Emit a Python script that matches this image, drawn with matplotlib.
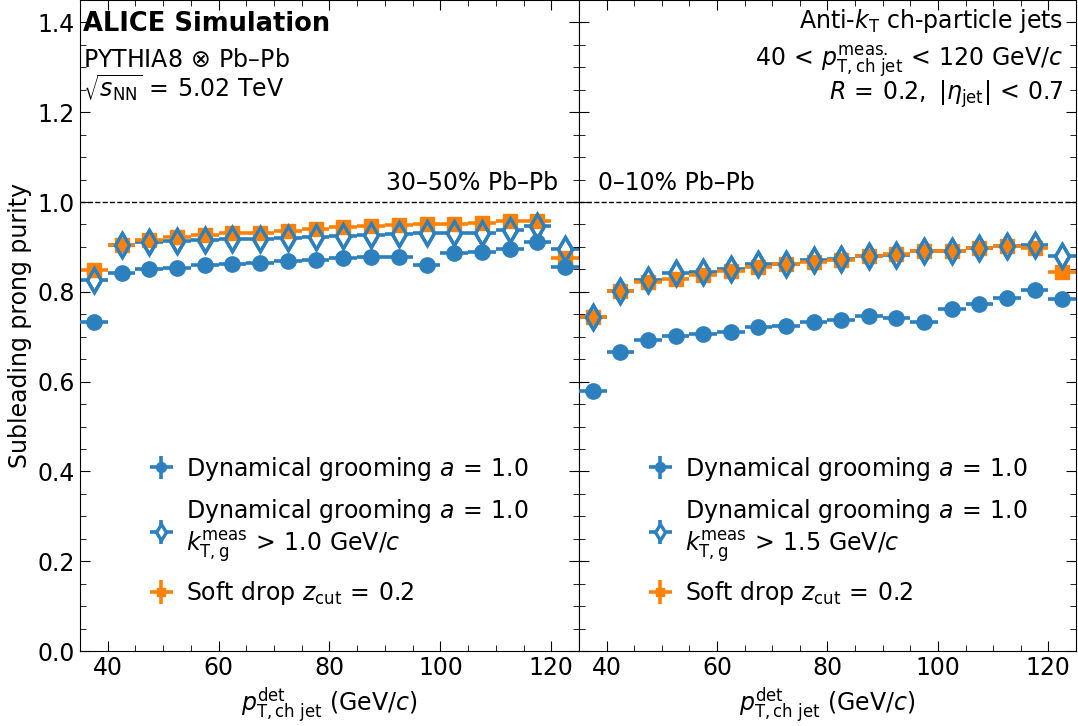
import matplotlib
matplotlib.use('Agg')
import matplotlib.pyplot as plt
import numpy as np

plt.rcParams['font.family'] = ['DejaVu Sans']
plt.rcParams['mathtext.fontset'] = 'dejavusans'

# bin centres (5 GeV bins)
pt_bins = [37.5, 42.5, 47.5, 52.5, 57.5, 62.5, 67.5, 72.5, 77.5, 82.5,
           87.5, 92.5, 97.5, 102.5, 107.5, 112.5, 117.5, 122.5]
bin_half_width = 2.5

# 30-50% Pb-Pb
dyg_3050 = [0.732, 0.843, 0.850, 0.854, 0.859, 0.863, 0.864, 0.869, 0.871, 0.876,
            0.877, 0.878, 0.860, 0.887, 0.889, 0.896, 0.910, 0.855]
dyg_3050_err = [0.004, 0.003, 0.003, 0.003, 0.003, 0.003, 0.003, 0.003, 0.003, 0.003,
                0.003, 0.003, 0.013, 0.003, 0.003, 0.003, 0.004, 0.004]
dygkt_3050 = [0.827, 0.905, 0.910, 0.913, 0.916, 0.917, 0.918, 0.921, 0.923, 0.925,
              0.927, 0.929, 0.930, 0.930, 0.932, 0.938, 0.946, 0.896]
sd_3050 = [0.848, 0.904, 0.915, 0.922, 0.926, 0.930, 0.932, 0.936, 0.939, 0.944,
           0.947, 0.949, 0.951, 0.952, 0.954, 0.958, 0.957, 0.876]

# 0-10% Pb-Pb
dyg_010 = [0.580, 0.665, 0.693, 0.701, 0.707, 0.710, 0.721, 0.725, 0.732, 0.738,
           0.747, 0.742, 0.733, 0.762, 0.773, 0.787, 0.804, 0.783]
dyg_010_err = [0.004, 0.003, 0.003, 0.003, 0.003, 0.003, 0.003, 0.003, 0.003, 0.003,
               0.003, 0.003, 0.006, 0.003, 0.003, 0.003, 0.004, 0.004]
dygkt_010 = [0.745, 0.802, 0.827, 0.841, 0.844, 0.851, 0.861, 0.863, 0.870, 0.874,
             0.880, 0.882, 0.890, 0.891, 0.898, 0.903, 0.904, 0.879]
sd_010 = [0.743, 0.801, 0.822, 0.828, 0.838, 0.847, 0.856, 0.861, 0.867, 0.872,
          0.879, 0.884, 0.890, 0.892, 0.898, 0.903, 0.897, 0.844]

blue = '#2b80bd'
orange = '#ff8207'

fig = plt.figure(figsize=(10.78, 7.26), dpi=100)
ax1 = fig.add_axes([0.0742, 0.1033, 0.4629, 0.8967])
ax2 = fig.add_axes([0.5371, 0.1033, 0.4610, 0.8967], sharey=ax1)


def draw_panel(ax, dyg, dyg_err, dygkt, sd, kt_label):
    h1 = ax.errorbar(pt_bins, dyg, xerr=bin_half_width, yerr=dyg_err, fmt='o',
                     color=blue, ms=11, elinewidth=2.6, capsize=0, zorder=4)
    # diamonds: white filled body hides their own bars, orange drawn above, outline on top
    h2 = ax.errorbar(pt_bins, dygkt, xerr=bin_half_width, yerr=0.003, fmt='d',
                     color=blue, mfc='white', mec=blue, mew=2.4, ms=12,
                     elinewidth=2.6, capsize=0, zorder=1)
    h3 = ax.errorbar(pt_bins, sd, xerr=bin_half_width, yerr=0.003, fmt='s',
                     color=orange, ms=9.5, elinewidth=2.6, capsize=0, zorder=2)
    ax.plot(pt_bins, dygkt, 'd', mfc='none', mec=blue, mew=2.4, ms=12, zorder=3)
    ax.axhline(1.0, color='black', ls='--', lw=1)
    ax.set_xlim(35, 125)
    ax.set_ylim(0, 1.45)
    ax.set_xticks([40, 60, 80, 100, 120])
    ax.set_xticks(np.arange(35, 126, 5), minor=True)
    ax.set_yticks([0, 0.2, 0.4, 0.6, 0.8, 1.0, 1.2, 1.4])
    ax.set_yticks(np.arange(0, 1.45, 0.05), minor=True)
    ax.tick_params(which='both', direction='in', top=True, right=True, labelsize=17)
    ax.tick_params(which='major', length=7)
    ax.tick_params(which='minor', length=4)
    ax.set_xlabel(r'$p_{\mathrm{T,ch\ jet}}^{\mathrm{det}}$ (GeV/$c$)', fontsize=17, labelpad=4)
    labels = [r'Dynamical grooming $a\,=\,1.0$',
              'Dynamical grooming $a\\,=\\,1.0$\n' + r'$k_{\mathrm{T,g}}^{\mathrm{meas}}\,>\,$' + kt_label + r' GeV/$c$',
              r'Soft drop $z_{\mathrm{cut}}\,=\,0.2$']
    leg = ax.legend([h1, h2, h3], labels, loc='lower left', bbox_to_anchor=(0.09, 0.035),
                    frameon=False, fontsize=17, markerscale=0.65, handlelength=1.3,
                    handletextpad=0.4, labelspacing=0.6)
    return leg


draw_panel(ax1, dyg_3050, dyg_3050_err, dygkt_3050, sd_3050, '1.0')
draw_panel(ax2, dyg_010, dyg_010_err, dygkt_010, sd_010, '1.5')
plt.setp(ax2.get_yticklabels(), visible=False)
ax1.set_ylabel('Subleading prong purity', fontsize=17)

ax1.text(0.006, 0.952, 'ALICE Simulation', transform=ax1.transAxes, fontsize=18.5,
         fontweight='bold', va='baseline', ha='left')
ax1.text(0.006, 0.897, r'PYTHIA8$\,\otimes\,$Pb–Pb', transform=ax1.transAxes, fontsize=17,
         va='baseline', ha='left')
ax1.text(0.006, 0.851, r'$\sqrt{s_{\mathrm{NN}}}\,=\,5.02$ TeV', transform=ax1.transAxes,
         fontsize=17, va='baseline', ha='left')
ax1.text(0.958, 0.708, '30–50% Pb–Pb', transform=ax1.transAxes, fontsize=17,
         va='baseline', ha='right')

ax2.text(0.974, 0.957, r'Anti-$k_{\mathrm{T}}$ ch-particle jets', transform=ax2.transAxes,
         fontsize=17, va='baseline', ha='right')
ax2.text(0.974, 0.897, r'$40\,<\,p_{\mathrm{T,ch\ jet}}^{\mathrm{meas.}}\,<\,120$ GeV/$c$',
         transform=ax2.transAxes, fontsize=17, va='baseline', ha='right')
ax2.text(0.974, 0.846, r'$R\,=\,0.2,\ |\eta_{\mathrm{jet}}|\,<\,0.7$', transform=ax2.transAxes,
         fontsize=17, va='baseline', ha='right')
ax2.text(0.038, 0.708, '0–10% Pb–Pb', transform=ax2.transAxes, fontsize=17,
         va='baseline', ha='left')

fig.savefig('out.png', dpi=100)
